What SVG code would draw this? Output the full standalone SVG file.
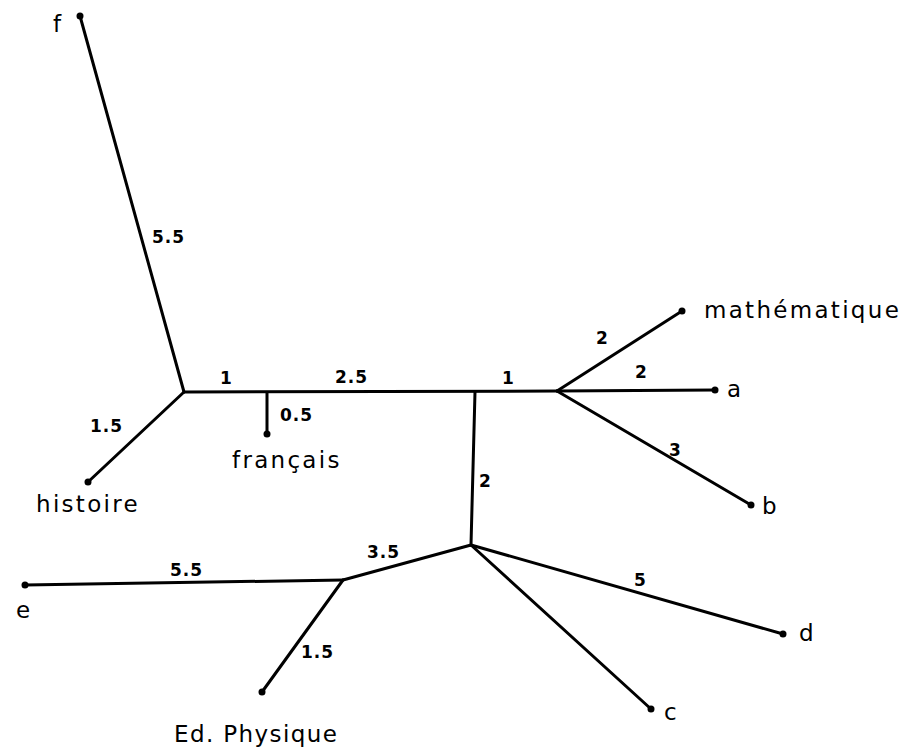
<svg xmlns="http://www.w3.org/2000/svg" width="913" height="752" viewBox="0 0 913 752">
<style>
.e{stroke:#000;stroke-width:3;fill:none;stroke-linecap:round;stroke-linejoin:round}
.d{fill:#000}
.t{font-family:"DejaVu Sans","Liberation Sans",sans-serif;font-size:23px;letter-spacing:2.3px;fill:#000}
.n{font-family:"DejaVu Sans","Liberation Sans",sans-serif;font-size:17px;font-weight:bold;letter-spacing:1px;fill:#000}
</style>
<rect width="913" height="752" fill="#fff"/>
<g id="connectors">
<path class="e" d="M80,16 L184,392"/>
<path class="e" d="M184,392 L88,482"/>
<path class="e" d="M184,392 L557,391"/>
<path class="e" d="M267,393 L267,434"/>
<path class="e" d="M475,392 L471,545"/>
<path class="e" d="M557,391 L682,311"/>
<path class="e" d="M557,391 L715,390"/>
<path class="e" d="M557,391 L751,505"/>
<path class="e" d="M471,545 L783,634"/>
<path class="e" d="M471,545 L651,709"/>
<path class="e" d="M471,545 L343,580"/>
<path class="e" d="M343,580 L25,585"/>
<path class="e" d="M343,580 L262,692"/>
</g>
<g id="edge-labels">
<text class="n" x="152" y="243">5.5</text>
<text class="n" x="220" y="384">1</text>
<text class="n" x="335" y="383">2.5</text>
<text class="n" x="502" y="384">1</text>
<text class="n" x="280" y="421">0.5</text>
<text class="n" x="90" y="432">1.5</text>
<text class="n" x="479" y="487">2</text>
<text class="n" x="596" y="344">2</text>
<text class="n" x="635" y="378">2</text>
<text class="n" x="669" y="456">3</text>
<text class="n" x="170" y="576">5.5</text>
<text class="n" x="367" y="558">3.5</text>
<text class="n" x="301" y="658">1.5</text>
<text class="n" x="634" y="586">5</text>
</g>
<g id="node-f"><circle class="d" cx="80" cy="16" r="3.5"/><text class="t" x="53" y="32">f</text></g>
<g id="node-histoire"><circle class="d" cx="88" cy="482" r="3.5"/><text class="t" x="36" y="512">histoire</text></g>
<g id="node-francais"><circle class="d" cx="267" cy="434" r="3.5"/><text class="t" x="232" y="468">français</text></g>
<g id="node-mathematique"><circle class="d" cx="682" cy="311" r="3.5"/><text class="t" x="704" y="318">mathématique</text></g>
<g id="node-a"><circle class="d" cx="715" cy="390" r="3.5"/><text class="t" x="727" y="397">a</text></g>
<g id="node-b"><circle class="d" cx="751" cy="505" r="3.5"/><text class="t" x="762" y="514">b</text></g>
<g id="node-d"><circle class="d" cx="783" cy="634" r="3.5"/><text class="t" x="799" y="641">d</text></g>
<g id="node-c"><circle class="d" cx="651" cy="709" r="3.5"/><text class="t" x="664" y="720">c</text></g>
<g id="node-e"><circle class="d" cx="25" cy="585" r="3.5"/><text class="t" x="16" y="618">e</text></g>
<g id="node-edphysique"><circle class="d" cx="262" cy="692" r="3.5"/><text class="t" x="174" y="742" style="letter-spacing:1.4px">Ed. Physique</text></g>
</svg>
